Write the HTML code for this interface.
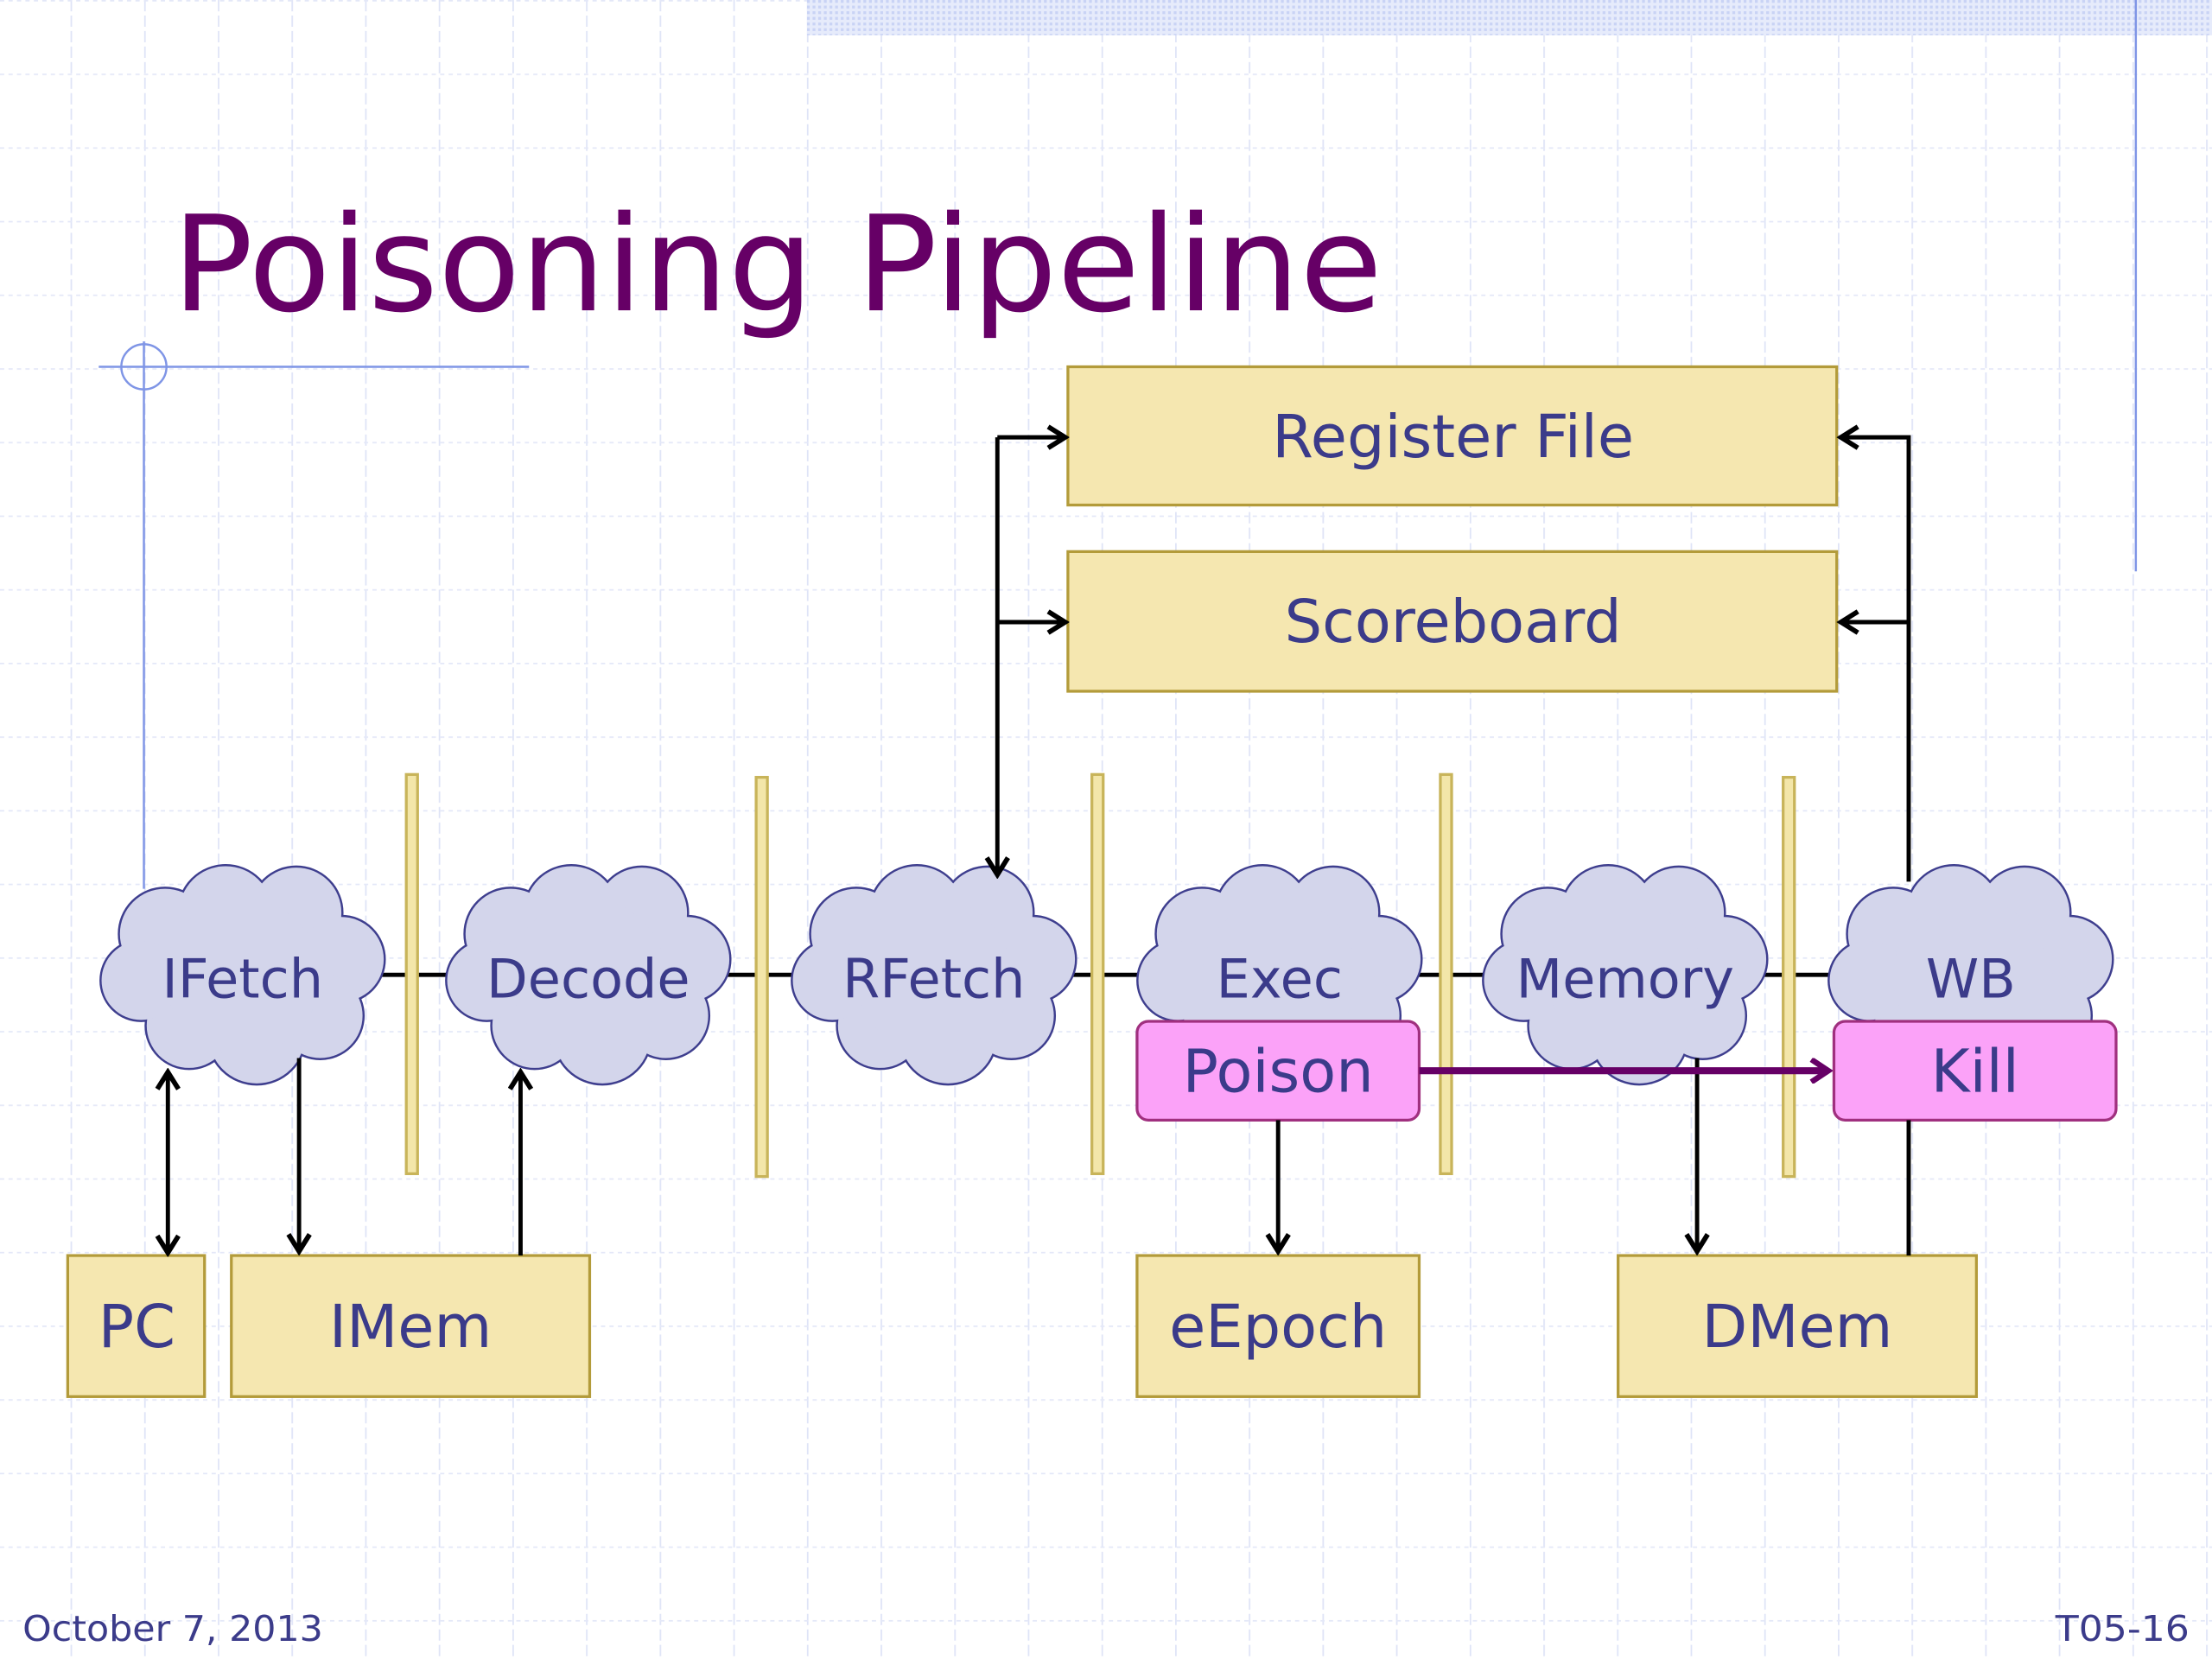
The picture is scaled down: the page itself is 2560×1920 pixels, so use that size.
<!DOCTYPE html>
<html><head><meta charset="utf-8"><style>
html,body{margin:0;padding:0;background:#fff;}
svg{display:block;}
text{font-family:"DejaVu Sans","Liberation Sans",sans-serif;}
</style></head><body>
<svg width="2560" height="1920" viewBox="0 0 1568 1176" xmlns="http://www.w3.org/2000/svg">
<defs>
<pattern id="vg" x="50" y="0" width="52.2" height="1176" patternUnits="userSpaceOnUse">
<line x1="0.5" y1="0" x2="0.5" y2="1176" stroke="#dfe4f7" stroke-width="1.2" stroke-dasharray="8,3"/>
</pattern>
<pattern id="hg" x="0" y="0" width="1568" height="52.2" patternUnits="userSpaceOnUse">
<line x1="0" y1="0.5" x2="1568" y2="0.5" stroke="#e4e8f8" stroke-width="1.2" stroke-dasharray="3,3"/>
</pattern>
<pattern id="hatch" width="4" height="4" patternUnits="userSpaceOnUse">
<rect width="4" height="4" fill="#e6ebfb"/><rect width="2" height="2" fill="#c9d3f5"/>
</pattern>
<marker id="ahb" markerWidth="18" markerHeight="18" refX="15" refY="9" orient="auto-start-reverse" markerUnits="userSpaceOnUse" viewBox="0 0 18 18">
<polyline points="3,1.5 15,9 3,16.5" fill="none" stroke="#000" stroke-width="3.5"/>
</marker>
<marker id="ahp" markerWidth="18" markerHeight="18" refX="15" refY="9" orient="auto" markerUnits="userSpaceOnUse" viewBox="0 0 18 18">
<polyline points="3,1 15,9 3,17" fill="none" stroke="#660066" stroke-width="4"/>
</marker>
<g id="cloudS">
<circle cx="-55" cy="-30" r="32"/><circle cx="-12" cy="-45" r="33"/><circle cx="38" cy="-45" r="32"/>
<circle cx="70" cy="-12" r="30"/><circle cx="55" cy="28" r="30"/><circle cx="10" cy="42" r="34"/>
<circle cx="-38" cy="35" r="30"/><circle cx="-72" cy="3" r="28"/><circle cx="0" cy="0" r="55"/>
</g>
</defs>
<rect width="1568" height="1176" fill="#fff"/>
<rect width="1568" height="1176" fill="url(#vg)"/>
<rect width="1568" height="1176" fill="url(#hg)"/>
<rect x="572" y="0" width="996" height="25" fill="url(#hatch)"/>
<line x1="1514" y1="0" x2="1514" y2="405" stroke="#7f95e6" stroke-width="1.5"/>
<line x1="70" y1="260" x2="375" y2="260" stroke="#7f95e6" stroke-width="1.5"/>
<line x1="102" y1="242" x2="102" y2="630" stroke="#7f95e6" stroke-width="1.5"/>
<ellipse cx="102" cy="260" rx="16" ry="16" fill="none" stroke="#7f95e6" stroke-width="1.5"/>

<text x="122" y="220" font-size="94" fill="#660066" textLength="858" lengthAdjust="spacingAndGlyphs">Poisoning Pipeline</text>

<line x1="260" y1="691" x2="1310" y2="691" stroke="#000" stroke-width="3"/>

<g fill="#f3e6a9" stroke="#c8b45a" stroke-width="2">
<rect x="288" y="549" width="8" height="283"/>
<rect x="536" y="551" width="8" height="283"/>
<rect x="774" y="549" width="8" height="283"/>
<rect x="1021" y="549" width="8" height="283"/>
<rect x="1264" y="551" width="8" height="283"/>
</g>

<g>
<g transform="translate(172,692)"><use href="#cloudS" fill="#d3d5eb" stroke="#3e3e8e" stroke-width="3"/><use href="#cloudS" fill="#d3d5eb"/></g>
<g transform="translate(417,692)"><use href="#cloudS" fill="#d3d5eb" stroke="#3e3e8e" stroke-width="3"/><use href="#cloudS" fill="#d3d5eb"/></g>
<g transform="translate(662,692)"><use href="#cloudS" fill="#d3d5eb" stroke="#3e3e8e" stroke-width="3"/><use href="#cloudS" fill="#d3d5eb"/></g>
<g transform="translate(907,692)"><use href="#cloudS" fill="#d3d5eb" stroke="#3e3e8e" stroke-width="3"/><use href="#cloudS" fill="#d3d5eb"/></g>
<g transform="translate(1152,692)"><use href="#cloudS" fill="#d3d5eb" stroke="#3e3e8e" stroke-width="3"/><use href="#cloudS" fill="#d3d5eb"/></g>
<g transform="translate(1397,692)"><use href="#cloudS" fill="#d3d5eb" stroke="#3e3e8e" stroke-width="3"/><use href="#cloudS" fill="#d3d5eb"/></g>
</g>
<g font-size="38" fill="#3b3b8a" text-anchor="middle">
<text x="172" y="707">IFetch</text>
<text x="417" y="707">Decode</text>
<text x="662" y="707">RFetch</text>
<text x="907" y="707">Exec</text>
<text x="1152" y="707">Memory</text>
<text x="1397" y="707">WB</text>
</g>

<g fill="#f5e7b0" stroke="#b39b3a" stroke-width="2">
<rect x="757" y="260" width="545" height="98"/>
<rect x="757" y="391" width="545" height="99"/>
<rect x="48" y="890" width="97" height="100"/>
<rect x="164" y="890" width="254" height="100"/>
<rect x="806" y="890" width="200" height="100"/>
<rect x="1147" y="890" width="254" height="100"/>
</g>
<g fill="#fba2f8" stroke="#a0307f" stroke-width="2">
<rect x="806" y="724" width="200" height="70" rx="8"/>
<rect x="1300" y="724" width="200" height="70" rx="8"/>
</g>
<g font-size="42" fill="#3b3b8a" text-anchor="middle">
<text x="1030" y="324">Register File</text>
<text x="1030" y="455">Scoreboard</text>
<text x="97" y="955">PC</text>
<text x="291" y="955">IMem</text>
<text x="906" y="955">eEpoch</text>
<text x="1274" y="955">DMem</text>
<text x="906" y="774">Poison</text>
<text x="1400" y="774">Kill</text>
</g>

<g stroke="#000" stroke-width="3" fill="none">
<path d="M707,310 L707,620" marker-end="url(#ahb)"/>
<path d="M707,310 L755,310" marker-end="url(#ahb)"/>
<path d="M707,441 L755,441" marker-end="url(#ahb)"/>
<path d="M1353,625 L1353,310 L1305,310" marker-end="url(#ahb)"/>
<path d="M1353,441 L1305,441" marker-end="url(#ahb)"/>
<path d="M1353,794 L1353,890"/>
<path d="M119,760 L119,888" marker-start="url(#ahb)" marker-end="url(#ahb)"/>
<path d="M212,750 L212,887" marker-end="url(#ahb)"/>
<path d="M369,890 L369,760" marker-end="url(#ahb)"/>
<path d="M906,794 L906,887" marker-end="url(#ahb)"/>
<path d="M1203,750 L1203,887" marker-end="url(#ahb)"/>
</g>
<path d="M1006,759 L1296,759" stroke="#660066" stroke-width="5" fill="none" marker-end="url(#ahp)"/>

<text x="16" y="1163" font-size="25" fill="#3b3b8a" textLength="213" lengthAdjust="spacingAndGlyphs">October 7, 2013</text>
<text x="1457" y="1163" font-size="25" fill="#3b3b8a" textLength="95" lengthAdjust="spacingAndGlyphs">T05-16</text>
</svg>
</body></html>
